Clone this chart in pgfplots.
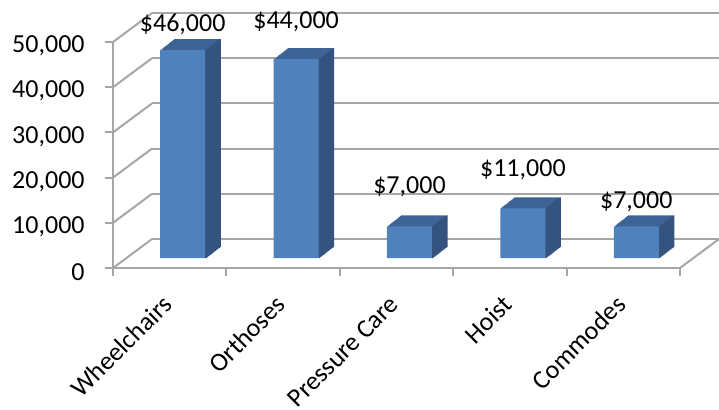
\documentclass[border=0pt]{standalone}
\usepackage{pgfplots}
\pgfplotsset{compat=1.18}
\usepackage{pgfplotstable}
\usepackage{fontspec}
\setmainfont{Carlito}

\definecolor{barfront}{HTML}{4F81BD}
\definecolor{bartop}{HTML}{3E6497}
\definecolor{barside}{HTML}{34537E}
\definecolor{gridc}{HTML}{A6A6A6}

% category, cost, label lift (pt)
\pgfplotstableread{
x y off
0 46000 7.5
1 44000 13.5
2 7000 14.5
3 11000 14
4 7000 7
}\costs

\begin{document}
\begin{tikzpicture}
\useasboundingbox (-56.5pt,-70.5pt) rectangle (303pt,134pt);

% back wall
\begin{axis}[at={(19.5pt,14.5pt)},
    scale only axis, width=283.5pt, height=113pt,
    xmin=-0.5, xmax=4.5, ymin=0, ymax=50000,
    axis line style={draw=none}, tick style={draw=none},
    xtick=\empty, ytick={0,10000,20000,30000,40000,50000}, yticklabels={},
    scaled y ticks=false,
    ymajorgrids, grid style={gridc, line width=1pt}]
\end{axis}

% front axis
\begin{axis}[
    scale only axis, width=283.5pt, height=113pt,
    xmin=-0.5, xmax=4.5, ymin=0, ymax=50000,
    axis line style={draw=none},
    xtick={-0.5,0.5,1.5,2.5,3.5,4.5}, x tick label as interval,
    xticklabels={Wheelchairs,Orthoses,Pressure Care,Hoist,Commodes},
    ytick={0,10000,20000,30000,40000,50000}, scaled y ticks=false,
    tick pos=left, tick align=outside, major tick length=4pt,
    tick style={gridc, line width=1pt},
    /pgf/number format/1000 sep={,},
    /pgf/number format/assume math mode=true,
    tick label style={font=\fontsize{13}{15}\selectfont, text=black},
    yticklabel style={inner sep=0pt, xshift=-10pt, yshift=-2pt},
    xticklabel style={yshift=-12pt, xshift=-1pt, rotate=45, anchor=east, inner sep=0pt},
    clip=false]
\draw[gridc, line width=1pt] (axis cs:-0.5,50000) -- (axis cs:-0.5,0) -- (axis cs:4.5,0);
\pgfplotsinvokeforeach{0,10000,20000,30000,40000,50000}{
  \draw[gridc, line width=1pt] (axis cs:-0.5,#1) -- ++(19.5pt,14.5pt);
}
\draw[gridc, line width=1pt] (axis cs:4.5,0) -- ++(19.5pt,14.5pt);
\end{axis}

% bars, set back a third of the depth
\begin{axis}[at={(6.5pt,5pt)},
    scale only axis, width=283.5pt, height=113pt,
    xmin=-0.5, xmax=4.5, ymin=0, ymax=50000,
    scaled y ticks=false, hide axis, clip=false]
\pgfplotsinvokeforeach{1,...,14}{
  \addplot[ybar, bar width=22.5pt, bar shift=0pt, fill=bartop, draw=none,
    xshift=#1*0.5pt, yshift=#1*0.393pt] table[x=x, y=y] {\costs};
}
\pgfplotsinvokeforeach{0,...,14}{
  \addplot[ybar, bar width=0.8pt, bar shift=11.65pt, fill=barside, draw=none,
    xshift=#1*0.5pt, yshift=#1*0.393pt] table[x=x, y=y] {\costs};
}
\addplot[ybar, bar width=22.5pt, bar shift=0pt, fill=barfront, draw=none,
    visualization depends on={\thisrow{off}\as\off},
    nodes near coords={\$\pgfmathprintnumber[assume math mode=true,1000 sep={,}]{\pgfplotspointmeta}},
    every node near coord/.append style={anchor=south, inner sep=0pt,
      yshift=\off pt, font=\fontsize{13}{15}\selectfont, text=black}]
  table[x=x, y=y] {\costs};
\end{axis}
\end{tikzpicture}
\end{document}
